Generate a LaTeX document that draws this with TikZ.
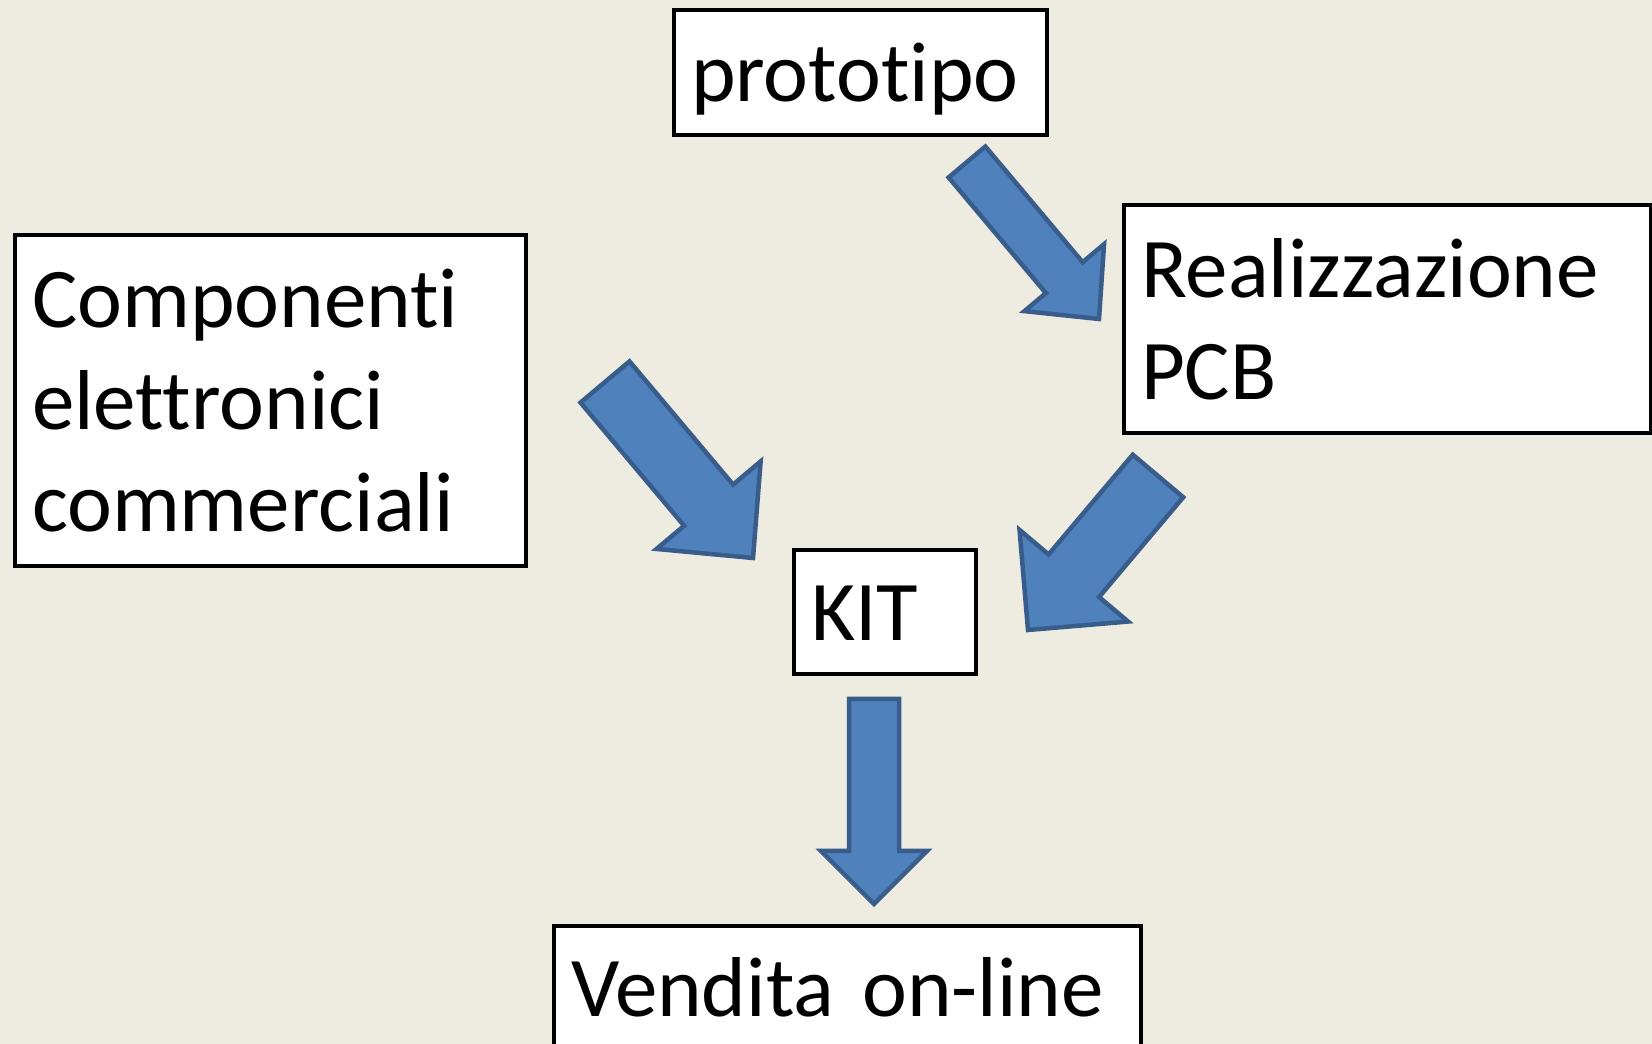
\documentclass[tikz,border=0pt]{standalone}
\usepackage{fontspec}
\setmainfont{Carlito}[Ligatures={NoCommon}]
\usetikzlibrary{calc}
\definecolor{slidebg}{HTML}{EEECE1}
\definecolor{arrowfill}{HTML}{4F81BD}
\definecolor{arrowline}{HTML}{385D8A}

\begin{document}
\begin{tikzpicture}[x=1pt,y=1pt,
  box/.style={draw=black,line width=4pt,fill=white,anchor=north west,
    inner xsep=17pt,inner ysep=0pt,align=left,
    font=\fontsize{85}{102}\selectfont},
  oneline/.style={text height=70pt,text depth=12pt},
  blockarrow/.style={draw=arrowline,fill=arrowfill,line width=4.5pt}]

% Slide background
\clip (0,0) rectangle (1652,1044);
\fill[slidebg] (0,0) rectangle (1652,1044);

% Boxes
\node[box,oneline,text width=339pt,minimum height=125pt] (proto) at (672,1036) {prototipo};
\node[box,text width=493pt,minimum height=228pt] (pcb) at (1122,841) {Realizzazione\\PCB};
\node[box,text width=477pt,minimum height=331pt] (comp) at (13,811) {Componenti\\elettronici\\commerciali};
\node[box,oneline,text width=148pt,minimum height=124pt] (kit) at (792,496) {KIT};
\node[box,oneline,text width=553pt,minimum height=124pt] (sale) at (552,120) {Vendita on-line};

% Block arrows between the boxes
\coordinate (from1) at (967,882);  \coordinate (to1) at (1099,725);
\coordinate (from2) at (605,662);  \coordinate (to2) at (753,486);
\coordinate (from3) at (1158,568); \coordinate (to3) at (1028,414);
\coordinate (from4) at (874,345);  \coordinate (to4) at (874,140);

\foreach \src/\dst/\sw/\hw/\hl in {from1/to1/24/52/54, from2/to2/32/68/69,
    from3/to3/33/71/71, from4/to4/25/53/53} {
  \coordinate (neck) at ($(\dst)!\hl pt!(\src)$);
  \draw[blockarrow] ($(\src)!\sw pt!90:(\dst)$) -- ($(neck)!\sw pt!90:(\dst)$)
    -- ($(neck)!\hw pt!90:(\dst)$) -- (\dst) -- ($(neck)!\hw pt!-90:(\dst)$)
    -- ($(neck)!\sw pt!-90:(\dst)$) -- ($(\src)!\sw pt!-90:(\dst)$) -- cycle;
}

\end{tikzpicture}
\end{document}
